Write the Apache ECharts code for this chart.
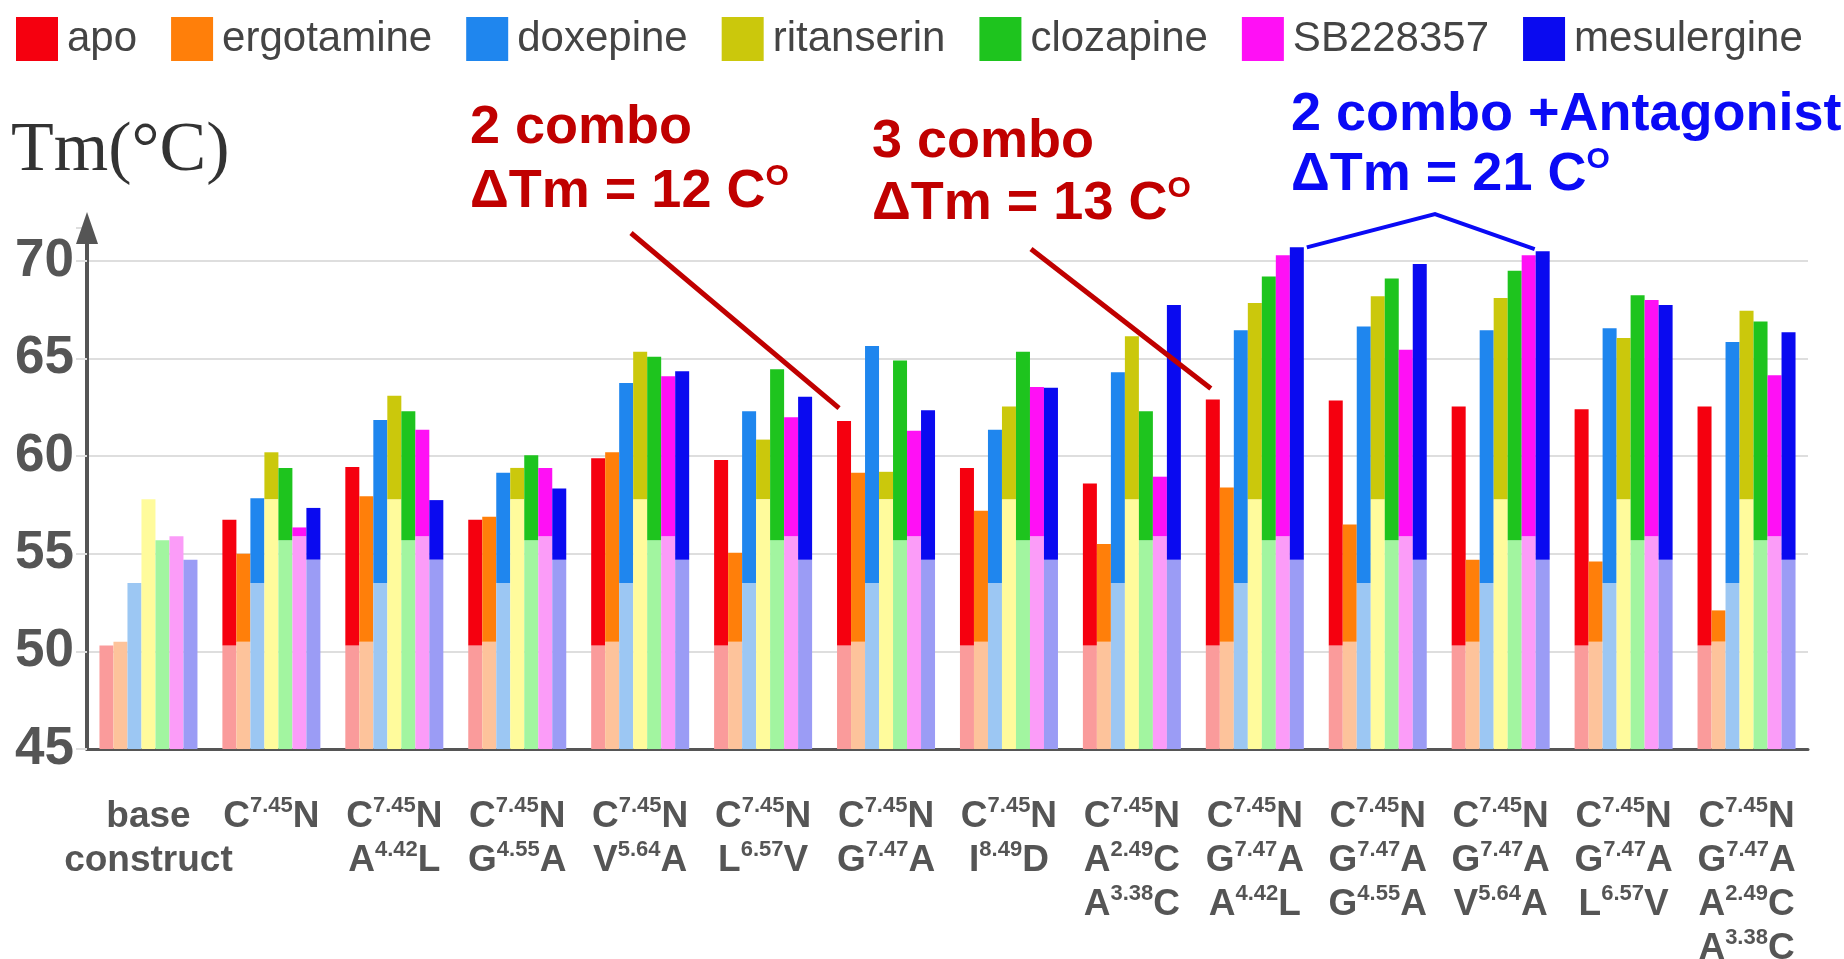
<!DOCTYPE html>
<html>
<head>
<meta charset="utf-8">
<script src="https://cdn.jsdelivr.net/npm/echarts@6/dist/echarts.min.js"></script>
<style>
html,body{margin:0;padding:0;background:#fff;}
#c{width:1844px;height:959px;}
</style>
</head>
<body>
<div id="c"></div>
<script>
// ---- data ----
const categories = [
  'base\nconstruct',
  'C7.45N',
  'C7.45N\nA4.42L',
  'C7.45N\nG4.55A',
  'C7.45N\nV5.64A',
  'C7.45N\nL6.57V',
  'C7.45N\nG7.47A',
  'C7.45N\nI8.49D',
  'C7.45N\nA2.49C\nA3.38C',
  'C7.45N\nG7.47A\nA4.42L',
  'C7.45N\nG7.47A\nG4.55A',
  'C7.45N\nG7.47A\nV5.64A',
  'C7.45N\nG7.47A\nL6.57V',
  'C7.45N\nG7.47A\nA2.49C\nA3.38C'
];
const drugs = ['apo', 'ergotamine', 'doxepine', 'ritanserin', 'clozapine', 'SB228357', 'mesulergine'];
// Tm of the base construct for each ligand (light lower part of every bar)
const baseTm = [50.3, 50.5, 53.5, 57.8, 55.7, 55.9, 54.7];
const apo         = [50.3, 56.75, 59.45, 56.75, 59.9, 59.8, 61.8, 59.4, 58.6, 62.9, 62.85, 62.55, 62.4, 62.55];
const ergotamine  = [50.5, 55.0, 57.95, 56.9, 60.2, 55.05, 59.15, 57.2, 55.5, 58.4, 56.5, 54.7, 54.6, 52.1];
const doxepine    = [53.5, 57.85, 61.85, 59.15, 63.75, 62.3, 65.65, 61.35, 64.3, 66.45, 66.65, 66.45, 66.55, 65.85];
const ritanserin  = [57.8, 60.2, 63.1, 59.4, 65.35, 60.85, 59.2, 62.55, 66.15, 67.85, 68.2, 68.1, 66.05, 67.45];
const clozapine   = [55.7, 59.4, 62.3, 60.05, 65.1, 64.45, 64.9, 65.35, 62.3, 69.2, 69.1, 69.5, 68.25, 66.9];
const sb228357    = [55.9, 56.35, 61.35, 59.4, 64.1, 62.0, 61.3, 63.55, 58.95, 70.3, 65.45, 70.3, 68.0, 64.15];
const mesulergine = [54.7, 57.35, 57.75, 58.35, 64.35, 63.05, 62.35, 63.5, 67.75, 70.7, 69.85, 70.5, 67.75, 66.35];
const yTicks = [45, 50, 55, 60, 65, 70];

// ---- styles ----
const values = [apo, ergotamine, doxepine, ritanserin, clozapine, sb228357, mesulergine];
const darkColors  = ['#f5000f', '#ff7f0a', '#1f86ee', '#cbc80c', '#1ec41e', '#ff10f5', '#0a0af0'];
const lightColors = ['#fa9b9b', '#fdc39b', '#9cc7f3', '#fffb9c', '#a2f5a0', '#fb9cf8', '#9b9cf5'];
const FONT = '"Liberation Sans", Arial, Helvetica, sans-serif';
const BAR_W = 14;

const series = [];
drugs.forEach((d, i) => {
  series.push({
    name: d + ' base', type: 'bar', stack: 's' + i, barWidth: BAR_W, barGap: '0%',
    itemStyle: { color: lightColors[i] }, silent: true,
    data: categories.map(() => baseTm[i])
  });
  series.push({
    name: d, type: 'bar', stack: 's' + i, barWidth: BAR_W, barGap: '0%',
    itemStyle: { color: darkColors[i] },
    data: values[i].map((v, j) => j === 0 ? '-' : +(v - baseTm[i]).toFixed(3))
  });
});

function fmtLabel(txt) {
  return txt.split('\n').map(line => {
    const m = line.match(/^([A-Z])(\d\.\d\d)([A-Z])$/);
    if (m) return '{m|' + m[1] + '}{s|' + m[2] + '}{m|' + m[3] + '}';
    return '{m|' + line + '}';
  }).join('\n');
}

const chart = echarts.init(document.getElementById('c'));
const TOP = 228, BOTTOM_Y = 749, PER = 19.52;
const yMax = +(45 + (BOTTOM_Y - TOP) / PER).toFixed(2);

chart.setOption({
  animation: false,
  backgroundColor: '#fff',
  legend: {
    data: drugs, left: 16, top: 17, padding: 0,
    icon: 'rect', itemWidth: 42, itemHeight: 44, itemGap: 34,
    textStyle: { fontSize: 42, color: '#444', fontFamily: FONT, padding: [0, 0, 0, 4] }
  },
  grid: { left: 87, right: 36, top: TOP, bottom: 959 - BOTTOM_Y, containLabel: false, outerBoundsMode: 'none' },
  xAxis: {
    type: 'category', data: categories,
    axisLine: { lineStyle: { color: '#555', width: 3 } },
    axisTick: { show: false },
    axisLabel: {
      interval: 0, margin: 46, formatter: fmtLabel,
      rich: {
        m: { fontSize: 37, fontWeight: 'bold', color: '#555', fontFamily: FONT, lineHeight: 44 },
        s: { fontSize: 22, fontWeight: 'bold', color: '#555', fontFamily: FONT, lineHeight: 32, verticalAlign: 'top' }
      }
    }
  },
  yAxis: {
    type: 'value', min: 45, max: yMax, interval: 5,
    axisLine: { show: true, lineStyle: { color: '#555', width: 4 }, symbol: ['none', 'triangle'], symbolSize: [22, 32] },
    axisTick: { show: true, length: 11, lineStyle: { color: '#dedede', width: 2 } },
    axisLabel: {
      fontSize: 53, fontWeight: 'bold', color: '#555', fontFamily: FONT, margin: 13,
      formatter: v => (yTicks.indexOf(v) >= 0 ? String(v) : '')
    },
    splitLine: { show: true, showMaxLine: false, lineStyle: { color: '#dedede', width: 2 } }
  },
  series: series
});

// ---- annotations (anchored on bar tops through the chart's own scales) ----
function barTop(cat, drugIdx) {
  const p = chart.convertToPixel({ xAxisIndex: 0, yAxisIndex: 0 }, [cat, values[drugIdx][cat]]);
  return [p[0] + (drugIdx - 3) * BAR_W, p[1]];
}
const RED = '#c00000', BLUE = '#0a0af5';
function anno(x, y, txt, color, sup) {
  return {
    type: 'text', x: x, y: y, z: 100,
    style: {
      text: sup ? '{a|' + txt + '}{s|O}' : '{a|' + txt + '}',
      rich: {
        a: { fontSize: 54, fontWeight: 'bold', fontFamily: FONT, fill: color, lineHeight: 60 },
        s: { fontSize: 30, fontWeight: 'bold', fontFamily: FONT, fill: color, lineHeight: 32, verticalAlign: 'top' }
      },
      verticalAlign: 'top'
    }
  };
}
const e1 = barTop(6, 0), e2 = barTop(9, 0), b1 = barTop(9, 6), b2 = barTop(11, 6);
chart.setOption({
  graphic: [
    { type: 'text', x: 11, y: 152, z: 100,
      style: { text: 'Tm(°C)', fontSize: 70, fontFamily: '"Liberation Serif", "DejaVu Serif", serif', fill: '#333', verticalAlign: 'middle' } },
    anno(470, 98, '2 combo', RED, false),
    anno(470, 162, 'ΔTm = 12 C', RED, true),
    anno(872, 112, '3 combo', RED, false),
    anno(872, 174, 'ΔTm = 13 C', RED, true),
    anno(1291, 85, '2 combo +Antagonist', BLUE, false),
    anno(1291, 145, 'ΔTm = 21 C', BLUE, true),
    { type: 'line', z: 100, shape: { x1: 631, y1: 233, x2: e1[0] - 5, y2: e1[1] - 13 }, style: { stroke: RED, lineWidth: 5 } },
    { type: 'line', z: 100, shape: { x1: 1031, y1: 249, x2: e2[0] - 2, y2: e2[1] - 11 }, style: { stroke: RED, lineWidth: 5 } },
    { type: 'polyline', z: 100, shape: { points: [[b1[0] + 10, b1[1]], [1435, 214], [b2[0] - 8, b2[1] - 2]] }, style: { stroke: BLUE, lineWidth: 4, fill: null } }
  ]
});
</script>
</body>
</html>
